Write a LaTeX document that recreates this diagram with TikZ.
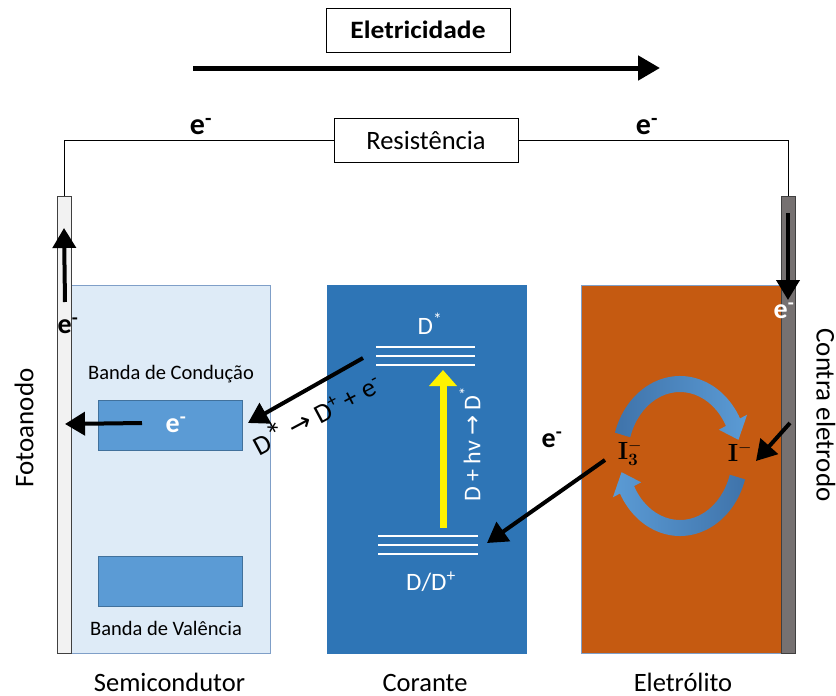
\documentclass[tikz,border=0pt]{standalone}
\usepackage[no-math]{fontspec}
\setmainfont{Carlito}
\newfontfamily\arrowfont{DejaVu Sans}
\usetikzlibrary{arrows.meta}

\definecolor{semifill}{HTML}{DEEBF7}
\definecolor{semiedge}{HTML}{7F9FC8}
\definecolor{bandfill}{HTML}{5B9BD5}
\definecolor{bandedge}{HTML}{41719C}
\definecolor{dyefill}{HTML}{2E75B6}
\definecolor{elecfill}{HTML}{C55A11}
\definecolor{cathodefill}{HTML}{767171}
\definecolor{anodefill}{HTML}{F2F2F2}
\definecolor{ringlight}{HTML}{5B9BD5}
\definecolor{ringdark}{HTML}{3F73AA}

\tikzset{
  fs/.style={font=\fontsize{#1}{#1}\selectfont},
  fsb/.style={font=\bfseries\fontsize{#1}{#1}\selectfont},
  labelbox/.style={draw=black, line width=0.9pt, fill=white, minimum width=184pt,
    minimum height=44pt, inner sep=0pt},
  layer/.style={line width=0.8pt, minimum height=368pt, inner sep=0pt},
  electrode/.style={draw=black!75, line width=0.9pt, minimum width=14pt,
    minimum height=457pt, inner sep=0pt},
  band/.style={draw=bandedge, line width=0.6pt, fill=bandfill, minimum width=144pt,
    minimum height=50pt, inner sep=0pt},
  flow/.style={line width=4pt, -{Triangle[length=20pt,width=23pt]}},
  level/.style={draw=white, line width=2pt}
}

\begin{document}
\begin{tikzpicture}[x=1pt,y=-1pt]
\useasboundingbox (0,0) rectangle (836,696);

% cell layers
\node[layer, draw=semiedge, fill=semifill, minimum width=199pt] (semi) at (170.5,469) {};
\node[layer, draw=dyefill, fill=dyefill, minimum width=199pt] (dye) at (426.5,469) {};
\node[layer, draw=semiedge, fill=elecfill, minimum width=201pt] (elec) at (681.5,469) {};

% electrodes
\node[electrode, fill=anodefill] (anode) at (64,424.5) {};
\node[electrode, fill=cathodefill] (cathode) at (788,424.5) {};

% external circuit
\node[labelbox, fsb=25] (elet) at (418,30) {\scalebox{1.1}[1]{Eletricidade}};
\node[labelbox, fs=26.5] (res) at (426,140) {Resistência};
\draw[line width=0.9pt] (anode.north) |- (res.west);
\draw[line width=0.9pt] (res.east) -| (cathode.north);

\coordinate (elA) at (193,68);
\coordinate (elB) at (660,68);
\draw[line width=5pt, -{Triangle[length=22pt,width=24pt]}] (elA) -- (elB);

\node[fsb=30] (eL) at (201,127) {e\textsuperscript{-}};
\node[fsb=30] (eR) at (647,127) {e\textsuperscript{-}};

% semiconductor bands
\node[band] (cb) at (170,425) {};
\node[band] (vb) at (170,581) {};
\node[fs=20.5] (cbl) at (171,374) {Banda de Condução};
\node[fs=20.5] (vbl) at (166,628) {Banda de Valência};
\node[fsb=28, text=white] (ecb) at (176,425) {e\textsuperscript{-}};

% dye energy levels
\coordinate (u1a) at (376,347); \coordinate (u1b) at (475,347);
\coordinate (u2a) at (376,356); \coordinate (u2b) at (475,356);
\coordinate (u3a) at (376,365); \coordinate (u3b) at (475,365);
\coordinate (l1a) at (378,536); \coordinate (l1b) at (478,536);
\coordinate (l2a) at (378,545); \coordinate (l2b) at (478,545);
\coordinate (l3a) at (378,554); \coordinate (l3b) at (478,554);
\draw[level] (u1a) -- (u1b); \draw[level] (u2a) -- (u2b); \draw[level] (u3a) -- (u3b);
\draw[level] (l1a) -- (l1b); \draw[level] (l2a) -- (l2b); \draw[level] (l3a) -- (l3b);
\node[fs=25, text=white] (dstar) at (430,324) {D\textsuperscript{*}};
\node[fs=25, text=white] (dground) at (431,582) {D/D\textsuperscript{+}};

% photo-excitation
\coordinate (yA) at (443,528);
\coordinate (yB) at (443,370);
\draw[line width=7pt, color=yellow, -{Triangle[length=16pt,width=27pt]}] (yA) -- (yB);
\node[fs=24, text=white, rotate=90] (excite) at (470,444) {D + hv {\arrowfont →} D\textsuperscript{*}};

% electron injection
\coordinate (injA) at (363,358);
\coordinate (injB) at (248,423);
\draw[flow] (injA) -- (injB);
\node[fs=27, rotate=28] (inj) at (316,413)
  {D{\fontsize{34}{34}\selectfont*} {\arrowfont →} D\textsuperscript{+} + e\textsuperscript{-}};

% transport to the photoanode and up the wire
\coordinate (cbA) at (142,423);
\coordinate (cbB) at (65,424);
\draw[flow] (cbA) -- (cbB);
\coordinate (anA) at (65,302);
\coordinate (anB) at (64,228);
\draw[flow] (anA) -- (anB);
\node[fsb=28] (ean) at (68,326) {e\textsuperscript{-}};

% counter electrode
\coordinate (caA) at (788,213);
\coordinate (caB) at (788,300);
\draw[flow] (caA) -- (caB);
\node[fsb=28, text=white] (eca) at (784,311) {e\textsuperscript{-}};
\coordinate (ceA) at (790,423);
\coordinate (ceB) at (756,461);
\draw[flow] (ceA) -- (ceB);

% regeneration of the dye
\coordinate (regA) at (605,460);
\coordinate (regB) at (487,543);
\draw[flow] (regA) -- (regB);
\node[fsb=28] (ereg) at (552,440) {e\textsuperscript{-}};

% iodide / triiodide cycle
\begin{scope}[shift={(680,456)}]
\shade[left color=ringdark, right color=ringlight]
  (197:68 and 80) arc[start angle=197, end angle=332, x radius=68, y radius=80]
  -- (332:76 and 88) -- (347:60 and 72) -- (332:44 and 56) -- (332:52 and 64)
  arc[start angle=332, end angle=197, x radius=52, y radius=64] -- cycle;
\shade[left color=ringlight, right color=ringdark]
  (17:68 and 80) arc[start angle=17, end angle=152, x radius=68, y radius=80]
  -- (152:76 and 88) -- (167:60 and 72) -- (152:44 and 56) -- (152:52 and 64)
  arc[start angle=152, end angle=17, x radius=52, y radius=64] -- cycle;
\end{scope}
\node[fs=26] (triodide) at (630,453) {$\mathbf{I}_{\mathbf{3}}^{-}$};
\node[fs=26] (iodide) at (740,452) {$\mathbf{I}^{-}$};

% side and bottom captions
\node[fs=27, rotate=90] (fa) at (24,428) {Fotoanodo};
\node[fs=27, rotate=-90] (ce) at (826,415) {Contra eletrodo};
\node[fs=26.5, anchor=base] (sc) at (169.5,691) {Semicondutor};
\node[fs=26.5, anchor=base] (co) at (425,691) {Corante};
\node[fs=26.5, anchor=base] (el) at (683,691) {Eletrólito};
\end{tikzpicture}
\end{document}
